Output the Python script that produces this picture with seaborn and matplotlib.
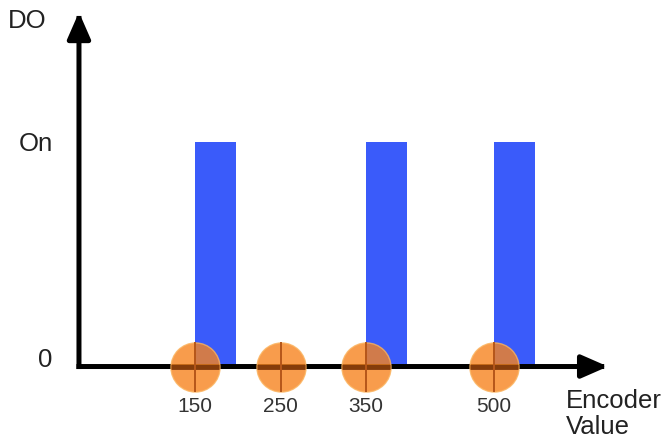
import matplotlib
matplotlib.use("Agg")
import matplotlib.pyplot as plt
import seaborn as sns

# ---- data ----
encoder_points = [150, 250, 350, 500]          # compare points (circles)
tick_labels = ["150", "250", "350", "500"]
bar_starts = [150, 350, 500]                    # DO switches On at these encoder values
bar_levels = [1, 1, 1]                          # On level
y_ticks = [0, 1]
y_tick_labels = ["0", "On"]

# ---- style ----
BLUE = "#3A5BFA"
ORANGE = "#F7841F"
BAR_W = 48          # bar width in encoder units
FONT = ["Liberation Sans", "DejaVu Sans"]

sns.set_theme(style="white")
plt.rcParams["font.family"] = FONT

fig = plt.figure(figsize=(6.67, 4.44), dpi=100)
ax = fig.add_axes([0.1184, 0.1745, 0.8111, 0.7980])

X0, X1 = 14.1, 647.2
Y0, Y1 = 0.0, 1.5760

# bars
sns.barplot(x=bar_starts, y=bar_levels, native_scale=True, color=BLUE,
            saturation=1, width=0.3, ax=ax, zorder=1)
for p in list(ax.patches):
    cx = p.get_x() + p.get_width() / 2
    p.set_x(cx)
    p.set_width(BAR_W)
    p.set_edgecolor("none")
    p.set_linewidth(0)

ax.set_xlim(X0, X1)
ax.set_ylim(Y0, Y1)

# axes arrows
arrow_kw = dict(arrowstyle="-|>,head_length=1.6,head_width=0.7", mutation_scale=10,
                lw=3.6, color="black", shrinkA=0, shrinkB=0, capstyle="projecting")
ax.annotate("", xy=(X0, Y1), xytext=(X0, Y0), arrowprops=arrow_kw,
            annotation_clip=False, zorder=2)
ax.annotate("", xy=(633.1, Y0), xytext=(X0, Y0), arrowprops=arrow_kw,
            annotation_clip=False, zorder=2)

# compare-point circles with cross hairs
zeros = [0] * len(encoder_points)
sns.scatterplot(x=encoder_points, y=zeros, s=1250, color=ORANGE, alpha=0.8,
                edgecolor="#FBB35E", linewidth=1, ax=ax, clip_on=False, zorder=4,
                legend=False)
sns.scatterplot(x=encoder_points, y=zeros, marker="_", s=1200, color="#7A3408",
                linewidth=3.6, alpha=0.85, ax=ax, clip_on=False, zorder=5, legend=False)
sns.scatterplot(x=encoder_points, y=zeros, marker="|", s=1250, color="#B5561A",
                linewidth=1.4, ax=ax, clip_on=False, zorder=5, legend=False)

# ticks
for s in ax.spines.values():
    s.set_visible(False)
ax.set_xticks(encoder_points, labels=tick_labels)
ax.set_yticks(y_ticks, labels=y_tick_labels)
ax.tick_params(axis="x", length=0, pad=22, labelsize=15, labelcolor="#333333")
ax.tick_params(axis="y", length=0, pad=19, labelsize=18.5, labelcolor="#222222")
ax.get_yticklabels()[0].set_va("baseline")
ax.grid(False)

# axis labels
ax.set_ylabel("DO", rotation=0, fontsize=18.5, color="#222222", ha="center", va="center")
ax.yaxis.set_label_coords(-0.096, 0.974)
ax.set_xlabel("Encoder\nValue", fontsize=18.5, color="#222222", ha="left", va="top",
              multialignment="left", linespacing=1.08)
ax.xaxis.set_label_coords(0.900, -0.064)

fig.savefig("out.png", dpi=100)
